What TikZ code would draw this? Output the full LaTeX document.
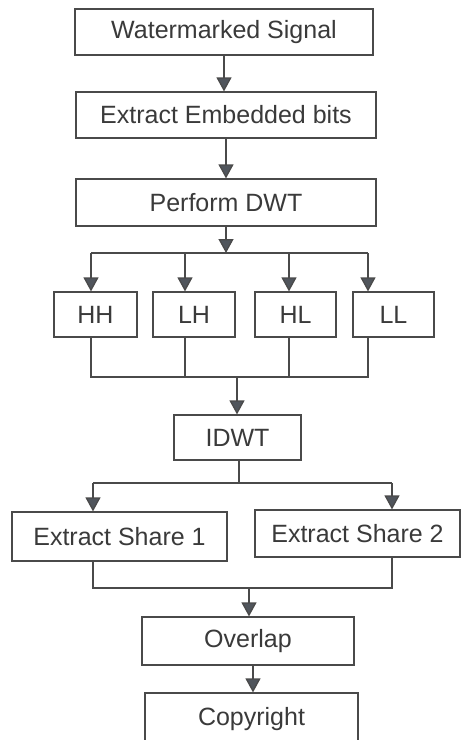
\documentclass[tikz,border=0pt]{standalone}
\usepackage{fontspec}
\setmainfont{Liberation Sans}
\usetikzlibrary{arrows.meta}
\definecolor{linec}{HTML}{4A4A4A}
\definecolor{tipc}{HTML}{50555C}
\definecolor{textc}{HTML}{3A3A3A}
\begin{document}
\begin{tikzpicture}[x=1pt,y=-1pt,
  box/.style={draw=linec, line width=1.2pt, inner sep=0pt, text=textc,
    font=\fontsize{25}{29}\selectfont, minimum height=46pt},
  conn/.style={draw=linec, line width=1.3pt},
  arr/.style={conn, -{Triangle[width=15pt,length=14pt,fill=tipc]}}]
\useasboundingbox[fill=white] (0,0) rectangle (461,740);

\node[box, minimum width=298pt] (ws) at (224,32) {Watermarked Signal};
\node[box, minimum width=300pt] (eeb) at (226,115) {Extract Embedded bits};
\node[box, minimum width=300pt, minimum height=47pt] (dwt) at (226,202.5) {Perform DWT};
\node[box, minimum width=83pt, minimum height=45pt] (hh) at (95.5,314.5) {HH};
\node[box, minimum width=82pt, minimum height=45pt] (lh) at (194,314.5) {LH};
\node[box, minimum width=81pt, minimum height=45pt] (hl) at (295.5,314.5) {HL};
\node[box, minimum width=81pt, minimum height=45pt] (ll) at (393.5,314.5) {LL};
\node[box, minimum width=127pt, minimum height=45pt] (idwt) at (237.5,437.5) {IDWT};
\node[box, minimum width=215pt, minimum height=49pt] (es1) at (119.5,536.5) {Extract Share 1};
\node[box, minimum width=205pt, minimum height=47pt] (es2) at (357.5,533.5) {Extract Share 2};
\node[box, minimum width=212pt, minimum height=48pt] (ov) at (248,641) {Overlap};
\node[box, minimum width=213pt, minimum height=52pt] (cr) at (251.5,719) {Copyright};

% top chain
\draw[arr] (ws.south) -- (ws.south |- eeb.north);
\draw[arr] (eeb.south) -- (eeb.south |- dwt.north);

% split to sub-bands
\coordinate (s1) at (226,253);
\coordinate (a1) at (91,253);
\coordinate (a2) at (185,253);
\coordinate (a3) at (289,253);
\coordinate (a4) at (368,253);
\draw[arr] (s1 |- dwt.south) -- (s1);
\draw[conn] (a1) -- (a4);
\draw[arr] (a1) -- (a1 |- hh.north);
\draw[arr] (a2) -- (a2 |- lh.north);
\draw[arr] (a3) -- (a3 |- hl.north);
\draw[arr] (a4) -- (a4 |- ll.north);

% join sub-bands
\coordinate (j1) at (91,377);
\coordinate (j4) at (368,377);
\coordinate (jm) at (237,377);
\draw[conn] (a1 |- hh.south) -- (j1) -- (j4) -- (a4 |- ll.south);
\draw[conn] (a2 |- lh.south) -- (a2 |- j1);
\draw[conn] (a3 |- hl.south) -- (a3 |- j1);
\draw[arr] (jm) -- (jm |- idwt.north);

% split to shares
\coordinate (t0) at (239,483);
\coordinate (t1) at (93,483);
\coordinate (t2) at (392,483);
\draw[conn] (t0 |- idwt.south) -- (t0);
\draw[conn] (t1) -- (t2);
\draw[arr] (t1) -- (t1 |- es1.north);
\draw[arr] (t2) -- (t2 |- es2.north);

% join shares
\coordinate (u1) at (93,588);
\coordinate (u2) at (392,588);
\coordinate (um) at (249,588);
\draw[conn] (t1 |- es1.south) -- (u1) -- (u2) -- (t2 |- es2.south);
\draw[arr] (um) -- (um |- ov.north);

\coordinate (v0) at (253,665);
\draw[arr] (v0 |- ov.south) -- (v0 |- cr.north);
\end{tikzpicture}
\end{document}
